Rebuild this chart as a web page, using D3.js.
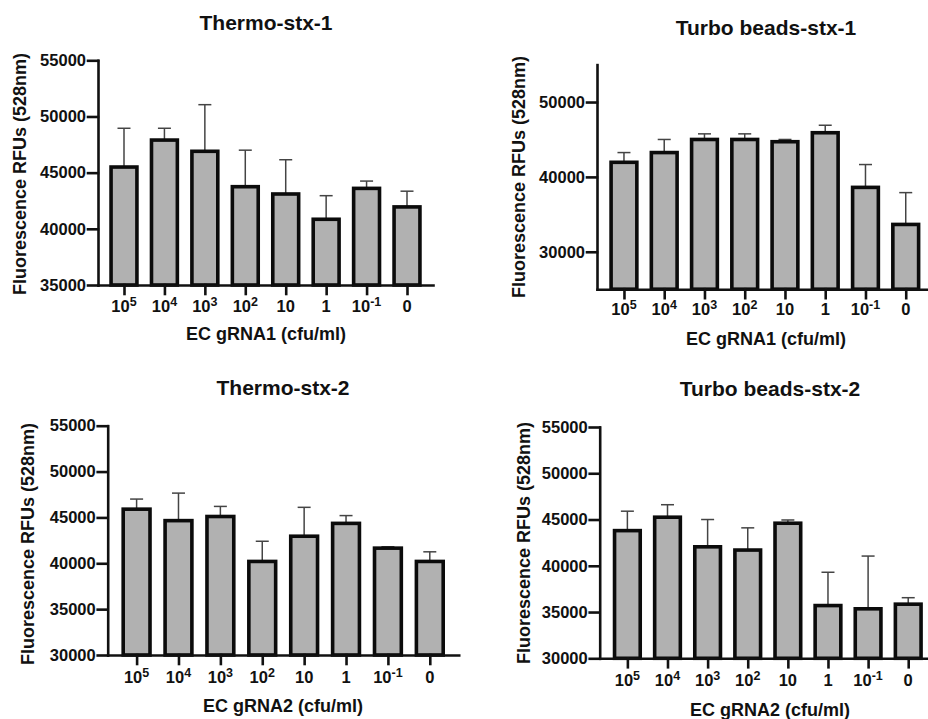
<!DOCTYPE html>
<html>
<head>
<meta charset="utf-8">
<script src="https://cdn.jsdelivr.net/npm/d3@7"></script>
<style>
  body { margin: 0; background: #fff; }
  svg { display: block; font-family: "Liberation Sans", Arial, sans-serif; font-weight: bold; }
  .axis path, .axis line { stroke: #111; stroke-width: 2.6; stroke-linecap: square; }
  .axis text { fill: #111; font-size: 16.5px; font-weight: bold; }
</style>
</head>
<body>
<script>
// categories (cfu/ml), "^" marks the superscript
var categories = ["10^5", "10^4", "10^3", "10^2", "10", "1", "10^-1", "0"];

// Thermo-stx-1
var thermo1Mean = [45500, 47900, 46900, 43750, 43100, 40850, 43600, 41950];
var thermo1Sd   = [3450, 1050, 4150, 3250, 3050, 2100, 650, 1400];
// Turbo beads-stx-1
var turbo1Mean = [41950, 43250, 45000, 45000, 44700, 45900, 38600, 33650];
var turbo1Sd   = [1300, 1750, 750, 750, 300, 1000, 3050, 4250];
// Thermo-stx-2
var thermo2Mean = [45900, 44650, 45100, 40200, 42950, 44350, 41650, 40200];
var thermo2Sd   = [1100, 3000, 1100, 2200, 3150, 850, 150, 1050];
// Turbo beads-stx-2
var turbo2Mean = [43800, 45250, 42050, 41700, 44600, 35700, 35350, 35850];
var turbo2Sd   = [2100, 1350, 2950, 2400, 350, 3600, 5700, 700];

var ticks1 = [35000, 40000, 45000, 50000, 55000];
var ticks2 = [30000, 40000, 50000];
var ticks3 = [30000, 35000, 40000, 45000, 50000, 55000];

var width = 928, height = 719;

var svg = d3.select("body").append("svg")
  .attr("width", width)
  .attr("height", height);

function drawPanel(p) {
  var y = d3.scaleLinear().domain(p.domain).range([p.bottom, p.top]);
  var x = d3.scalePoint().domain(categories).range([p.left, p.right]).padding(p.pad);
  var bw = x.step() * 0.64;

  var g = svg.append("g");

  // error bars (upper only) under the bars
  var err = g.selectAll(".err")
    .data(categories)
    .enter().append("g")
    .attr("class", "err")
    .attr("stroke", "#444")
    .attr("stroke-width", 1.5);
  err.append("line")
    .attr("x1", function(d) { return x(d); })
    .attr("x2", function(d) { return x(d); })
    .attr("y1", function(d, i) { return y(p.mean[i]); })
    .attr("y2", function(d, i) { return y(p.mean[i] + p.sd[i]); });
  err.append("line")
    .attr("x1", function(d) { return x(d) - 6.5; })
    .attr("x2", function(d) { return x(d) + 6.5; })
    .attr("y1", function(d, i) { return y(p.mean[i] + p.sd[i]); })
    .attr("y2", function(d, i) { return y(p.mean[i] + p.sd[i]); });

  g.selectAll(".bar")
    .data(categories)
    .enter().append("rect")
    .attr("class", "bar")
    .attr("x", function(d) { return x(d) - bw / 2; })
    .attr("width", bw)
    .attr("y", function(d, i) { return y(p.mean[i]); })
    .attr("height", function(d, i) { return p.bottom - y(p.mean[i]); })
    .attr("fill", "#b1b1b1")
    .attr("stroke", "#0b0b0b")
    .attr("stroke-width", 3.6);

  // y axis
  g.append("g")
    .attr("class", "axis")
    .attr("transform", "translate(" + p.left + ",0)")
    .call(d3.axisLeft(y).tickValues(p.ticks).tickSize(10).tickSizeOuter(0).tickPadding(2).tickFormat(d3.format("d")));

  // x axis
  var xa = g.append("g")
    .attr("class", "axis")
    .attr("transform", "translate(0," + p.bottom + ")")
    .call(d3.axisBottom(x).tickSize(9).tickSizeOuter(0).tickFormat(""));
  xa.selectAll(".tick line").attr("stroke-linecap", "butt");

  // category labels with superscripts
  var lab = g.selectAll(".cat")
    .data(categories)
    .enter().append("text")
    .attr("class", "cat")
    .attr("x", function(d) { return x(d); })
    .attr("y", p.tickY)
    .attr("text-anchor", "middle")
    .attr("fill", "#111")
    .style("font-size", "16.5px");
  lab.each(function(d) {
    var parts = d.split("^");
    var t = d3.select(this);
    t.append("tspan").text(parts[0]);
    if (parts.length > 1) {
      t.append("tspan")
        .attr("dy", -6)
        .style("font-size", "12.5px")
        .text(parts[1].replace("-", "\u2011"));
    }
  });

  // title
  g.append("text")
    .attr("x", p.titleX)
    .attr("y", p.titleY)
    .attr("text-anchor", "middle")
    .attr("fill", "#111")
    .style("font-size", "21px")
    .text(p.title);

  // x label
  g.append("text")
    .attr("x", p.titleX)
    .attr("y", p.xLabelY)
    .attr("text-anchor", "middle")
    .attr("fill", "#111")
    .style("font-size", "18px")
    .text(p.xLabel);

  // y label
  g.append("text")
    .attr("transform", "translate(" + p.yLabelX + "," + p.yLabelY + ") rotate(-90)")
    .attr("text-anchor", "middle")
    .attr("dy", "0.35em")
    .attr("fill", "#111")
    .style("font-size", "18px")
    .text("Fluorescence RFUs (528nm)");
}

drawPanel({
  title: "Thermo-stx-1", xLabel: "EC gRNA1 (cfu/ml)",
  mean: thermo1Mean, sd: thermo1Sd, domain: [35000, 55000], ticks: ticks1,
  left: 98, right: 433, top: 60.3, bottom: 285, pad: 0.643,
  titleX: 266, titleY: 30, xLabelY: 340, tickY: 312, yLabelX: 20, yLabelY: 174
});

drawPanel({
  title: "Turbo beads-stx-1", xLabel: "EC gRNA1 (cfu/ml)",
  mean: turbo1Mean, sd: turbo1Sd, domain: [25000, 55000], ticks: ticks2,
  left: 597, right: 932.7, top: 64.6, bottom: 289.2, pad: 0.67,
  titleX: 766, titleY: 35, xLabelY: 345, tickY: 315, yLabelX: 519, yLabelY: 177
});

drawPanel({
  title: "Thermo-stx-2", xLabel: "EC gRNA2 (cfu/ml)",
  mean: thermo2Mean, sd: thermo2Sd, domain: [30000, 55000], ticks: ticks3,
  left: 107.7, right: 458.7, top: 425.7, bottom: 655, pad: 0.69,
  titleX: 283, titleY: 395, xLabelY: 712, tickY: 683, yLabelX: 28, yLabelY: 544
});

drawPanel({
  title: "Turbo beads-stx-2", xLabel: "EC gRNA2 (cfu/ml)",
  mean: turbo2Mean, sd: turbo2Sd, domain: [30000, 55000], ticks: ticks3,
  left: 599.7, right: 935.9, top: 427, bottom: 658.3, pad: 0.69,
  titleX: 770, titleY: 396, xLabelY: 716, tickY: 686, yLabelX: 524, yLabelY: 543
});
</script>
</body>
</html>
